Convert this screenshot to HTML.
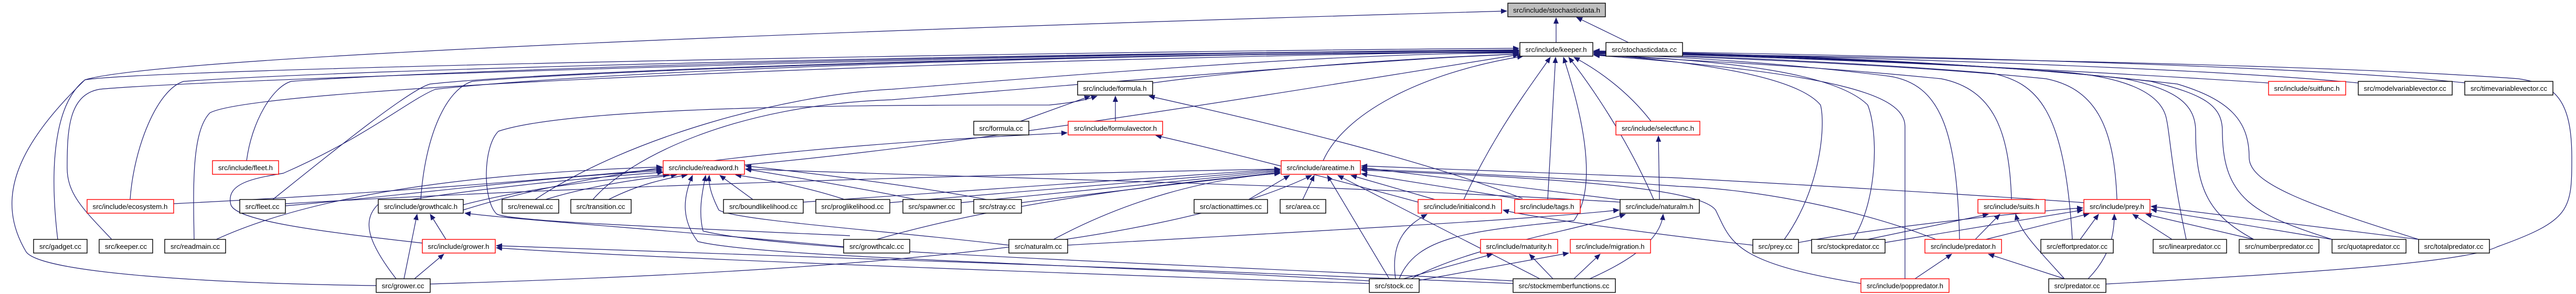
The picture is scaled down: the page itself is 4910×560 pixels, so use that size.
<!DOCTYPE html>
<html><head><meta charset="utf-8"><style>
html,body{margin:0;padding:0;background:#fff;}
svg{display:block;}
text{font-family:"Liberation Sans",sans-serif;font-size:13px;fill:#000;}
.e{fill:none;stroke:#191970;stroke-width:1.2;}
.n{fill:#fff;stroke:#000;stroke-width:1.4;}
.r{fill:#fff;stroke:#ff0000;stroke-width:1.4;}
</style></head><body>
<svg width="4910" height="560" viewBox="0 0 4910 560" xmlns="http://www.w3.org/2000/svg">
<defs><marker id="a" markerUnits="userSpaceOnUse" markerWidth="12" markerHeight="10" refX="11" refY="5" orient="auto"><path d="M0,0 L12,5 L0,10 z" fill="#191970"/></marker></defs>
<g class="e" marker-end="url(#a)">
<path d="M2966,81 L2966,34"/>
<path d="M3104,81 L3005,33"/>
<path d="M110,456 C95,330 100,200 162,152 C300,110 1500,60 2872,21"/>
<path d="M717,544 C400,540 80,520 50,480 C-10,380 30,280 162,152 C300,130 2000,98 2895,92"/>
<path d="M213,456 C160,400 128,370 128,320 C128,250 130,180 190,170 C400,150 2000,100 2895,95"/>
<path d="M248,380 C255,280 300,170 350,155 C700,130 2000,100 2895,96"/>
<path d="M370,456 C368,350 366,250 400,215 C500,160 2000,110 2895,98"/>
<path d="M470,306 C480,230 520,165 555,155 C900,130 2000,100 2895,97"/>
<path d="M520,380 C620,300 780,170 820,160 C1100,130 2200,100 2895,99"/>
<path d="M805,463 C600,440 450,420 440,390 C430,350 480,340 540,330 C700,260 780,190 830,170 C1200,130 2200,100 2895,100"/>
<path d="M802,380 C810,260 850,170 900,155 C1200,130 2200,100 2895,100"/>
<path d="M412,456 C600,370 900,330 1262,318"/>
<path d="M331,388 C700,370 1000,345 1262,322"/>
<path d="M544,392 C800,370 1000,340 1262,325"/>
<path d="M544,388 C1200,350 2000,330 2440,322"/>
<path d="M883,390 C1000,360 1150,340 1275,333"/>
<path d="M1040,380 C1120,355 1220,340 1290,333"/>
<path d="M1020,380 C1200,260 1500,180 1700,170 C2200,130 2600,100 2895,101"/>
<path d="M1160,380 C1220,350 1270,340 1310,333"/>
<path d="M1130,380 C1200,300 1400,200 1700,190 C2300,140 2700,110 2897,103"/>
<path d="M1435,380 L1372,334"/>
<path d="M1531,385 C1900,360 2200,340 2440,322"/>
<path d="M1610,380 C1550,360 1480,345 1402,333"/>
<path d="M1696,386 C2000,360 2250,340 2440,324"/>
<path d="M1745,380 C1650,360 1500,335 1421,322"/>
<path d="M1832,386 C2100,360 2300,340 2440,326"/>
<path d="M1880,380 C1750,355 1550,330 1421,316"/>
<path d="M1947,386 C2150,360 2300,345 2440,328"/>
<path d="M2380,380 L2458,334"/>
<path d="M2483,380 L2505,334"/>
<path d="M2735,380 L2575,334"/>
<path d="M2790,380 C2850,250 2920,160 2955,109"/>
<path d="M2902,380 L2595,331"/>
<path d="M2950,380 L2965,109"/>
<path d="M2902,378 C2700,300 2400,230 2190,183"/>
<path d="M3100,382 L2595,319"/>
<path d="M3152,380 C3100,260 3030,160 2990,109"/>
<path d="M3163,380 L3161,259"/>
<path d="M3147,231 C3100,170 3040,130 3000,109"/>
<path d="M2522,306 C2560,220 2700,140 2903,107"/>
<path d="M1419,314 C1800,280 2300,200 2895,104"/>
<path d="M2197,158 C2400,130 2700,110 2895,103"/>
<path d="M2126,231 L2126,183"/>
<path d="M1945,231 L2078,183"/>
<path d="M2703,385 C2500,330 2300,280 2203,258"/>
<path d="M1608,470 C1300,440 1000,420 886,406"/>
<path d="M1620,449 C1200,430 960,420 946,407 C920,380 920,280 950,250 C1100,200 1700,200 2000,200 C2050,195 2070,190 2091,183"/>
<path d="M883,400 C1200,300 1700,270 2034,253"/>
<path d="M850,456 L820,408"/>
<path d="M770,531 L795,408"/>
<path d="M790,531 L846,484"/>
<path d="M755,531 C700,460 690,420 720,390 C900,360 1100,340 1264,328"/>
<path d="M820,541 C1500,520 2200,480 2500,334"/>
<path d="M2610,540 C2000,520 1200,490 946,472"/>
<path d="M2884,540 C2200,510 1300,480 946,468"/>
<path d="M2008,456 C2150,380 2300,340 2440,330"/>
<path d="M2035,467 C2500,440 2900,420 3086,400"/>
<path d="M1671,456 C1900,390 2200,350 2440,330"/>
<path d="M2648,531 L2530,334"/>
<path d="M2660,531 C2650,460 2680,430 2720,408"/>
<path d="M2675,531 L2845,484"/>
<path d="M2705,534 L2990,482"/>
<path d="M2690,531 C2800,470 3000,440 3098,408"/>
<path d="M2667,531 C2700,450 2800,440 3000,420 C3050,350 3010,200 2980,109"/>
<path d="M2935,531 L2550,334"/>
<path d="M2960,531 L2915,484"/>
<path d="M3000,531 L3050,484"/>
<path d="M3030,531 C3100,500 3165,460 3170,408"/>
<path d="M2610,535 C2000,500 1450,490 1330,460 C1300,420 1300,380 1320,334"/>
<path d="M2884,535 C2200,500 1500,480 1340,440 C1330,400 1340,360 1345,334"/>
<path d="M1923,467 C1700,440 1400,420 1370,400 C1355,370 1350,350 1352,334"/>
<path d="M3088,385 C2500,350 1900,340 1421,322"/>
<path d="M3834,380 C3830,250 3800,170 3700,150 C3400,120 3100,110 3038,104"/>
<path d="M3560,456 L3790,408"/>
<path d="M3593,462 L3970,400"/>
<path d="M3532,456 C3580,380 3580,250 3560,200 C3500,140 3300,115 3038,104"/>
<path d="M3765,456 L3812,408"/>
<path d="M3785,456 L3982,407"/>
<path d="M3735,456 C3730,250 3700,160 3600,145 C3400,120 3200,108 3038,102"/>
<path d="M3690,456 C3550,400 3350,360 3200,355 C3000,340 2800,330 2595,322"/>
<path d="M3650,531 L3720,484"/>
<path d="M3631,531 L3631,240 C3630,180 3500,140 3038,105"/>
<path d="M3547,540 C3300,500 3300,460 3270,400 C3240,360 3000,340 2595,324"/>
<path d="M3935,531 L3790,484"/>
<path d="M3935,531 C3880,470 3850,440 3842,408"/>
<path d="M3980,531 C4020,490 4030,450 4030,408"/>
<path d="M4014,541 C4400,520 4700,500 4760,470 C4900,420 4902,400 4902,300 C4902,190 4870,160 4800,150 C4400,120 3500,108 3038,100"/>
<path d="M3965,456 L4000,408"/>
<path d="M3950,456 C3935,200 3880,160 3800,140 C3500,115 3200,106 3038,101"/>
<path d="M3428,462 C3600,430 3900,400 3970,396"/>
<path d="M3401,456 C3470,360 3480,240 3470,200 C3420,140 3200,115 3038,103"/>
<path d="M3341,467 C3100,440 2900,410 2865,400"/>
<path d="M4140,456 L4065,408"/>
<path d="M4167,456 C4140,330 4135,250 4130,230 C4120,160 4000,140 3900,135 C3600,115 3300,105 3038,100"/>
<path d="M4296,456 L4090,408"/>
<path d="M4296,456 C4210,410 4185,360 4185,250 C4185,200 4150,170 4050,150 C3800,120 3400,108 3038,99"/>
<path d="M4445,456 L4100,399"/>
<path d="M4445,456 C4300,410 4236,380 4236,250 C4236,200 4200,180 4100,155 C3800,120 3400,106 3038,98"/>
<path d="M4610,456 L4100,393"/>
<path d="M4610,456 C4400,390 4287,350 4287,300 C4287,230 4250,190 4150,160 C3800,120 3400,104 3038,97"/>
<path d="M4035,380 C4030,250 4000,170 3900,150 C3600,120 3200,108 3038,101"/>
<path d="M3972,386 C3600,360 3300,345 3200,339 C3000,330 2800,325 2595,316"/>
<path d="M4324,158 C3900,130 3400,108 3038,100"/>
<path d="M4495,158 C4200,130 3600,110 3038,98"/>
<path d="M4700,158 C4400,125 3600,105 3038,97"/>
</g>
<g>
<rect x="2874" y="6" width="186" height="26" fill="#bfbfbf" stroke="#000" stroke-width="1.4"/><text x="2967" y="24" text-anchor="middle" textLength="166" lengthAdjust="spacingAndGlyphs">src/include/stochasticdata.h</text>
<rect class="n" x="2897" y="81" width="139" height="26"/><text x="2966" y="99" text-anchor="middle" textLength="117" lengthAdjust="spacingAndGlyphs">src/include/keeper.h</text>
<rect class="n" x="3061" y="81" width="146" height="26"/><text x="3134" y="99" text-anchor="middle" textLength="124" lengthAdjust="spacingAndGlyphs">src/stochasticdata.cc</text>
<rect class="n" x="2054" y="155" width="143" height="26"/><text x="2125" y="173" text-anchor="middle" textLength="121" lengthAdjust="spacingAndGlyphs">src/include/formula.h</text>
<rect class="r" x="4324" y="155" width="147" height="26"/><text x="4397" y="173" text-anchor="middle" textLength="125" lengthAdjust="spacingAndGlyphs">src/include/suitfunc.h</text>
<rect class="n" x="4495" y="155" width="179" height="26"/><text x="4584" y="173" text-anchor="middle" textLength="157" lengthAdjust="spacingAndGlyphs">src/modelvariablevector.cc</text>
<rect class="n" x="4698" y="155" width="168" height="26"/><text x="4782" y="173" text-anchor="middle" textLength="146" lengthAdjust="spacingAndGlyphs">src/timevariablevector.cc</text>
<rect class="n" x="1856" y="231" width="105" height="26"/><text x="1908" y="249" text-anchor="middle" textLength="83" lengthAdjust="spacingAndGlyphs">src/formula.cc</text>
<rect class="r" x="2036" y="231" width="180" height="26"/><text x="2126" y="249" text-anchor="middle" textLength="158" lengthAdjust="spacingAndGlyphs">src/include/formulavector.h</text>
<rect class="r" x="3080" y="231" width="160" height="26"/><text x="3160" y="249" text-anchor="middle" textLength="138" lengthAdjust="spacingAndGlyphs">src/include/selectfunc.h</text>
<rect class="r" x="405" y="306" width="126" height="26"/><text x="468" y="324" text-anchor="middle" textLength="104" lengthAdjust="spacingAndGlyphs">src/include/fleet.h</text>
<rect class="r" x="1264" y="306" width="155" height="26"/><text x="1341" y="324" text-anchor="middle" textLength="133" lengthAdjust="spacingAndGlyphs">src/include/readword.h</text>
<rect class="r" x="2442" y="306" width="151" height="26"/><text x="2517" y="324" text-anchor="middle" textLength="129" lengthAdjust="spacingAndGlyphs">src/include/areatime.h</text>
<rect class="r" x="166" y="380" width="165" height="26"/><text x="248" y="398" text-anchor="middle" textLength="143" lengthAdjust="spacingAndGlyphs">src/include/ecosystem.h</text>
<rect class="n" x="457" y="380" width="87" height="26"/><text x="500" y="398" text-anchor="middle" textLength="65" lengthAdjust="spacingAndGlyphs">src/fleet.cc</text>
<rect class="n" x="721" y="380" width="162" height="26"/><text x="802" y="398" text-anchor="middle" textLength="140" lengthAdjust="spacingAndGlyphs">src/include/growthcalc.h</text>
<rect class="n" x="957" y="380" width="108" height="26"/><text x="1011" y="398" text-anchor="middle" textLength="86" lengthAdjust="spacingAndGlyphs">src/renewal.cc</text>
<rect class="n" x="1088" y="380" width="115" height="26"/><text x="1145" y="398" text-anchor="middle" textLength="93" lengthAdjust="spacingAndGlyphs">src/transition.cc</text>
<rect class="n" x="1379" y="380" width="152" height="26"/><text x="1455" y="398" text-anchor="middle" textLength="130" lengthAdjust="spacingAndGlyphs">src/boundlikelihood.cc</text>
<rect class="n" x="1555" y="380" width="141" height="26"/><text x="1625" y="398" text-anchor="middle" textLength="119" lengthAdjust="spacingAndGlyphs">src/proglikelihood.cc</text>
<rect class="n" x="1721" y="380" width="111" height="26"/><text x="1776" y="398" text-anchor="middle" textLength="89" lengthAdjust="spacingAndGlyphs">src/spawner.cc</text>
<rect class="n" x="1856" y="380" width="91" height="26"/><text x="1901" y="398" text-anchor="middle" textLength="69" lengthAdjust="spacingAndGlyphs">src/stray.cc</text>
<rect class="n" x="2276" y="380" width="140" height="26"/><text x="2346" y="398" text-anchor="middle" textLength="118" lengthAdjust="spacingAndGlyphs">src/actionattimes.cc</text>
<rect class="n" x="2440" y="380" width="87" height="26"/><text x="2483" y="398" text-anchor="middle" textLength="65" lengthAdjust="spacingAndGlyphs">src/area.cc</text>
<rect class="r" x="2703" y="380" width="159" height="26"/><text x="2782" y="398" text-anchor="middle" textLength="137" lengthAdjust="spacingAndGlyphs">src/include/initialcond.h</text>
<rect class="r" x="2887" y="380" width="125" height="26"/><text x="2949" y="398" text-anchor="middle" textLength="103" lengthAdjust="spacingAndGlyphs">src/include/tags.h</text>
<rect class="n" x="3088" y="380" width="151" height="26"/><text x="3163" y="398" text-anchor="middle" textLength="129" lengthAdjust="spacingAndGlyphs">src/include/naturalm.h</text>
<rect class="r" x="3770" y="380" width="128" height="26"/><text x="3834" y="398" text-anchor="middle" textLength="106" lengthAdjust="spacingAndGlyphs">src/include/suits.h</text>
<rect class="r" x="3972" y="380" width="126" height="26"/><text x="4035" y="398" text-anchor="middle" textLength="104" lengthAdjust="spacingAndGlyphs">src/include/prey.h</text>
<rect class="n" x="64" y="456" width="102" height="26"/><text x="115" y="474" text-anchor="middle" textLength="80" lengthAdjust="spacingAndGlyphs">src/gadget.cc</text>
<rect class="n" x="189" y="456" width="102" height="26"/><text x="240" y="474" text-anchor="middle" textLength="80" lengthAdjust="spacingAndGlyphs">src/keeper.cc</text>
<rect class="n" x="314" y="456" width="116" height="26"/><text x="372" y="474" text-anchor="middle" textLength="94" lengthAdjust="spacingAndGlyphs">src/readmain.cc</text>
<rect class="r" x="805" y="456" width="139" height="26"/><text x="874" y="474" text-anchor="middle" textLength="117" lengthAdjust="spacingAndGlyphs">src/include/grower.h</text>
<rect class="n" x="1608" y="456" width="126" height="26"/><text x="1671" y="474" text-anchor="middle" textLength="104" lengthAdjust="spacingAndGlyphs">src/growthcalc.cc</text>
<rect class="n" x="1923" y="456" width="112" height="26"/><text x="1979" y="474" text-anchor="middle" textLength="90" lengthAdjust="spacingAndGlyphs">src/naturalm.cc</text>
<rect class="r" x="2822" y="456" width="147" height="26"/><text x="2895" y="474" text-anchor="middle" textLength="125" lengthAdjust="spacingAndGlyphs">src/include/maturity.h</text>
<rect class="r" x="2993" y="456" width="153" height="26"/><text x="3069" y="474" text-anchor="middle" textLength="131" lengthAdjust="spacingAndGlyphs">src/include/migration.h</text>
<rect class="n" x="3341" y="456" width="87" height="26"/><text x="3384" y="474" text-anchor="middle" textLength="65" lengthAdjust="spacingAndGlyphs">src/prey.cc</text>
<rect class="n" x="3453" y="456" width="140" height="26"/><text x="3523" y="474" text-anchor="middle" textLength="118" lengthAdjust="spacingAndGlyphs">src/stockpredator.cc</text>
<rect class="r" x="3669" y="456" width="146" height="26"/><text x="3742" y="474" text-anchor="middle" textLength="124" lengthAdjust="spacingAndGlyphs">src/include/predator.h</text>
<rect class="n" x="3890" y="456" width="138" height="26"/><text x="3959" y="474" text-anchor="middle" textLength="116" lengthAdjust="spacingAndGlyphs">src/effortpredator.cc</text>
<rect class="n" x="4104" y="456" width="140" height="26"/><text x="4174" y="474" text-anchor="middle" textLength="118" lengthAdjust="spacingAndGlyphs">src/linearpredator.cc</text>
<rect class="n" x="4268" y="456" width="152" height="26"/><text x="4344" y="474" text-anchor="middle" textLength="130" lengthAdjust="spacingAndGlyphs">src/numberpredator.cc</text>
<rect class="n" x="4445" y="456" width="141" height="26"/><text x="4515" y="474" text-anchor="middle" textLength="119" lengthAdjust="spacingAndGlyphs">src/quotapredator.cc</text>
<rect class="n" x="4610" y="456" width="135" height="26"/><text x="4677" y="474" text-anchor="middle" textLength="113" lengthAdjust="spacingAndGlyphs">src/totalpredator.cc</text>
<rect class="n" x="717" y="531" width="103" height="26"/><text x="768" y="549" text-anchor="middle" textLength="81" lengthAdjust="spacingAndGlyphs">src/grower.cc</text>
<rect class="n" x="2610" y="531" width="95" height="26"/><text x="2657" y="549" text-anchor="middle" textLength="73" lengthAdjust="spacingAndGlyphs">src/stock.cc</text>
<rect class="n" x="2884" y="531" width="195" height="26"/><text x="2981" y="549" text-anchor="middle" textLength="173" lengthAdjust="spacingAndGlyphs">src/stockmemberfunctions.cc</text>
<rect class="r" x="3547" y="531" width="168" height="26"/><text x="3631" y="549" text-anchor="middle" textLength="146" lengthAdjust="spacingAndGlyphs">src/include/poppredator.h</text>
<rect class="n" x="3905" y="531" width="109" height="26"/><text x="3959" y="549" text-anchor="middle" textLength="87" lengthAdjust="spacingAndGlyphs">src/predator.cc</text>
</g>
</svg>
</body></html>
